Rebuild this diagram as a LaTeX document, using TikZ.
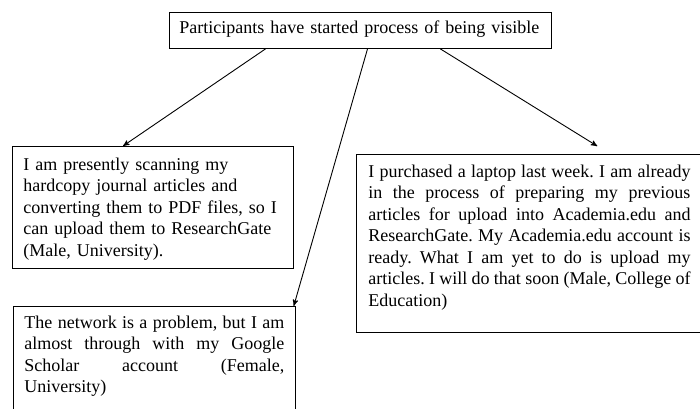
\documentclass[tikz,border=0pt]{standalone}
\usepackage{fontspec}
\setmainfont{Liberation Serif}
\usepackage{tikz}
\usetikzlibrary{arrows}

\begin{document}
\frenchspacing
\begin{tikzpicture}[->,>=stealth',shorten >=0pt,semithick,
  x=0.6667pt,y=-0.6667pt]
  \tikzstyle{box}=[draw,rectangle,anchor=north west,inner ysep=0pt,
    font=\fontsize{12}{14.33}\selectfont]
  \useasboundingbox (0,0) rectangle (700,408);

  \node[box,align=left,text width=241.3pt,inner xsep=6.67pt,
    text height=14pt,text depth=10pt] (top) at (169,12)
    {Participants have started process of being visible};
  \node[box,align=left,text width=172.7pt,inner xsep=7.33pt,
    text height=16pt,text depth=65.3pt] (lbox) at (12,146)
    {I am presently scanning my\\ hardcopy journal articles and\\
     converting them to PDF files, so I\\ can upload them to ResearchGate\\
     (Male, University).};
  \node[box,align=justify,text width=214.7pt,inner xsep=8pt,
    text height=15.3pt,text depth=103.4pt] (rbox) at (356,154)
    {I purchased a laptop last week. I am already\linebreak
     in the process of preparing my previous\linebreak
     articles for upload into Academia.edu and\linebreak
     ResearchGate. My Academia.edu account is\linebreak
     ready. What I am yet to do is upload my\linebreak
     articles. I will do that soon (Male, College of\linebreak
     Education)};
  \node[box,align=justify,text width=173.3pt,inner xsep=7.33pt,
    text height=14.7pt,text depth=56pt] (bbox) at (13,306)
    {The network is a problem, but I am\linebreak
     almost through with my Google\linebreak
     Scholar account (Female,\linebreak
     University)};

  \path
  (top.191) edge (lbox.116.6)
  (top.291.3) edge (bbox.21.4)
  (top.347.2) edge [shorten >=10pt] (rbox.48)
  ;

\end{tikzpicture}
\end{document}
